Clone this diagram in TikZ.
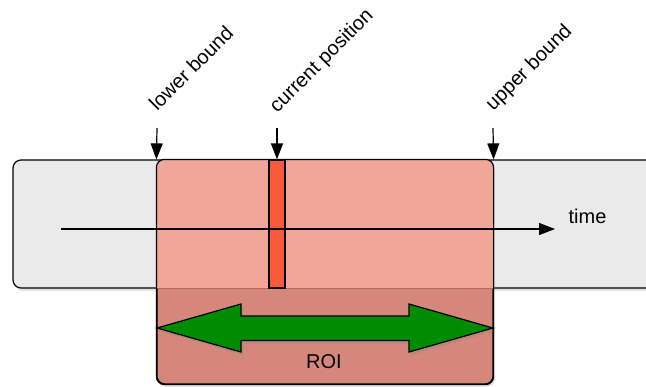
\documentclass[tikz,border=0pt]{standalone}
\usepackage{fontspec}
\setmainfont{Liberation Sans}
\usetikzlibrary{arrows.meta,shadows}
\definecolor{graybox}{HTML}{EAEAEA}
\definecolor{roilight}{HTML}{F2A599}
\definecolor{roidark}{HTML}{D4877A}
\definecolor{roiedge}{HTML}{B46A5C}
\definecolor{curbar}{HTML}{F95A3C}
\definecolor{arrowgreen}{HTML}{008C00}
\begin{document}
\begin{tikzpicture}[x=1pt,y=1pt,line width=1.2pt,
  boxshadow/.style={drop shadow={opacity=0.22,shadow xshift=2pt,shadow yshift=-3pt}},
  tipline/.style={-{Triangle[length=16pt,width=12pt]}},
  lbl/.style={font=\fontsize{20}{24}\selectfont,inner sep=0pt},
  panel/.style={draw,rounded corners=8pt,inner sep=0pt}]
\useasboundingbox (0,0) rectangle (646,-386);
% timeline box
\node[panel,fill=graybox,minimum width=647pt,minimum height=128pt,boxshadow] (timeline) at (336.5,-224) {};
% ROI box
\node[panel,fill=roidark,minimum width=336pt,minimum height=224pt,boxshadow] (roi) at (325,-272) {};
\begin{scope}
  \clip (0,0) rectangle (646,-288);
  \fill[roilight,rounded corners=8pt] (roi.south west) rectangle (roi.north east);
\end{scope}
\draw[roiedge,line width=0.8pt] (roi.west |- timeline.south) -- (roi.east |- timeline.south);
\draw[rounded corners=8pt] (roi.south west) rectangle (roi.north east);
% current position bar
\node[draw,fill=curbar,minimum width=16pt,minimum height=128pt,inner sep=0pt] (cur) at (277,-224) {};
% time axis
\coordinate (tstart) at (61,-229);
\coordinate (tend) at (555,-229);
\draw[tipline] (tstart) -- (tend);
\node[lbl,anchor=base west] (timelbl) at (568,-223) {time};
% markers
\coordinate (lbtop) at (157,-128);
\coordinate (cptop) at (277,-128);
\coordinate (ubtop) at (493,-128);
\draw[tipline] (lbtop) -- (roi.north west);
\draw[tipline] (cptop) -- (cur.north);
\draw[tipline] (ubtop) -- (roi.north east);
\node[lbl,rotate=45,anchor=base west] (lblow) at (157,-112) {lower bound};
\node[lbl,rotate=45,anchor=base west] (lbcur) at (277,-114) {current position};
\node[lbl,rotate=45,anchor=base west] (lbup) at (493,-112) {upper bound};
% ROI double arrow
\draw[fill=arrowgreen,line join=miter,drop shadow={opacity=0.25,shadow xshift=2pt,shadow yshift=-3pt}]
  (157,-328) -- (241,-304) -- (241,-316) -- (409,-316) -- (409,-304) -- (493,-328)
  -- (409,-352) -- (409,-340.5) -- (241,-340.5) -- (241,-352) -- cycle;
\node[lbl,anchor=base] (roilbl) at (324,-368) {ROI};
\end{tikzpicture}
\end{document}
